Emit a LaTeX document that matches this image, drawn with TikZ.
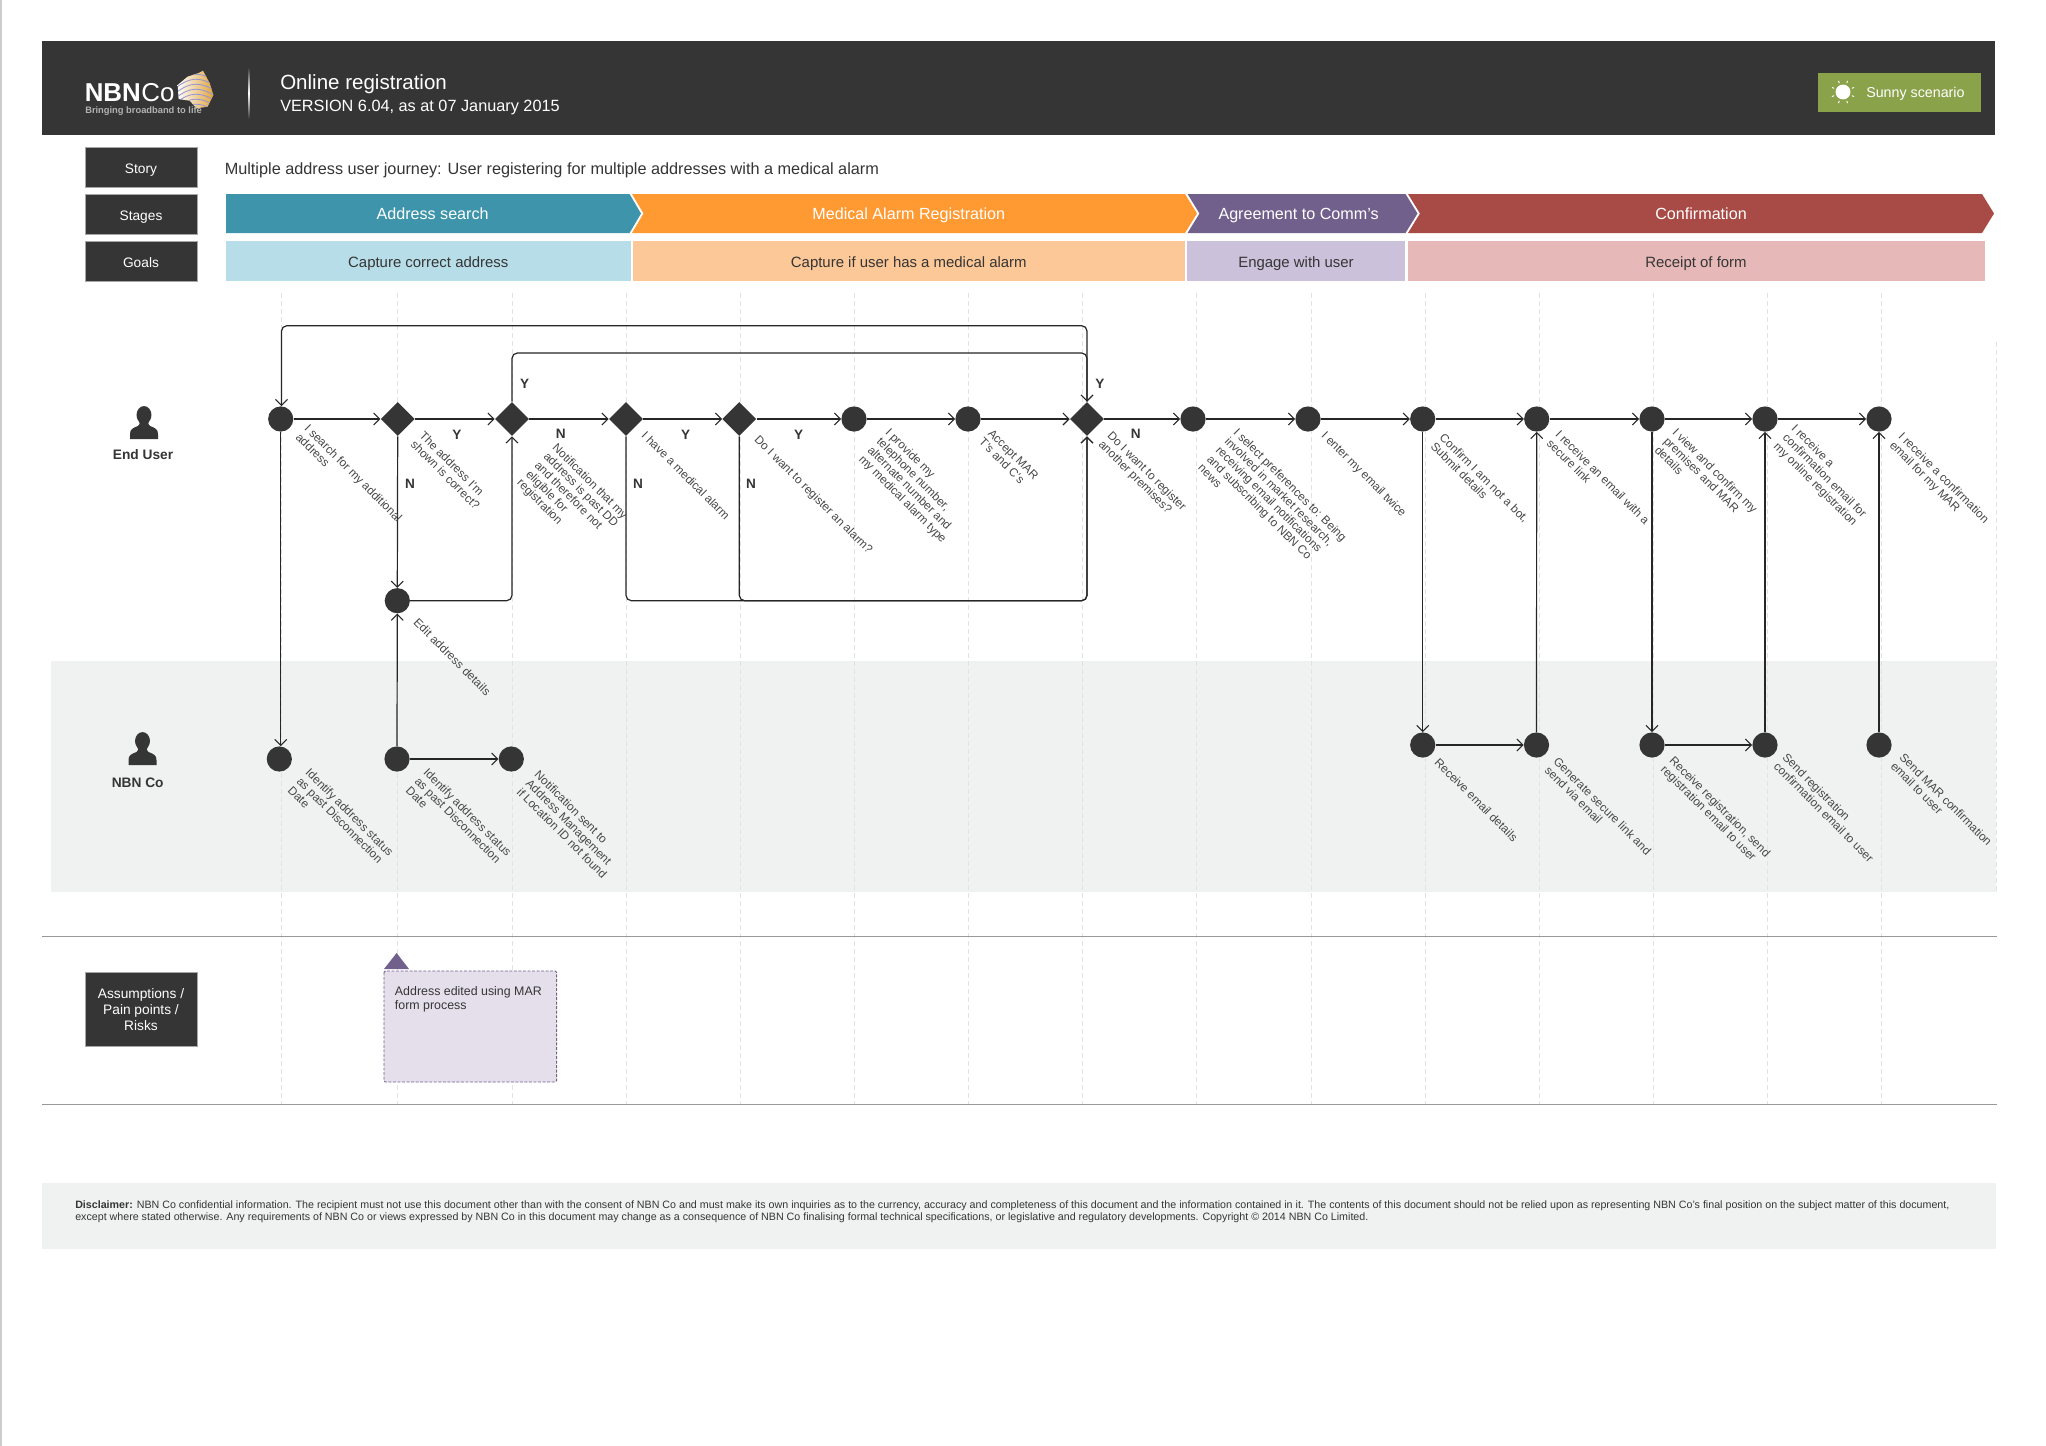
\documentclass[tikz,border=0pt]{standalone}
\usepackage{fontspec}
\setmainfont{Liberation Sans}
\usetikzlibrary{arrows.meta,shapes.geometric}
\definecolor{dark}{HTML}{353535}
\definecolor{lab}{HTML}{484848}
\definecolor{linec}{HTML}{262626}
\definecolor{gridc}{HTML}{E2E2E2}
\definecolor{band}{HTML}{F0F2F2}
\definecolor{teal}{HTML}{3D94AB}
\definecolor{orangeS}{HTML}{FF9A33}
\definecolor{purpleS}{HTML}{72608C}
\definecolor{redS}{HTML}{A84A45}
\definecolor{tealL}{HTML}{B7DEE8}
\definecolor{orangeL}{HTML}{FCC898}
\definecolor{purpleL}{HTML}{CCC1DA}
\definecolor{redL}{HTML}{E6B9B8}
\definecolor{sunny}{HTML}{8AA24A}
\definecolor{notefill}{HTML}{E5DFEC}
\definecolor{gold}{HTML}{E0A23C}
\newcommand\fpx[2]{\fontsize{#1pt}{#2pt}\selectfont}
\newcommand\personicon[2]{%
  \begin{scope}[shift={(#1,#2)}]
    \fill[dark] (0,-17) ellipse[x radius=5.6pt,y radius=6.7pt];
    \fill[dark] (-14,7) -- (-14,2) .. controls (-14,-3) and (-11,-4) .. (-6,-6)
      .. controls (-4,-7) and (-4,-9) .. (-5,-11) -- (5,-11)
      .. controls (4,-9) and (4,-7) .. (6,-6)
      .. controls (11,-4) and (14,-3) .. (14,2) -- (14,7) -- cycle;
  \end{scope}}
\tikzset{
  x=0.75pt,y=-0.75pt,
  headbox/.style={fill=dark,draw=gray!70,line width=0.4pt},
  sidetxt/.style={text=white,font=\fpx{10.3}{12},align=center,inner sep=0},
  fixh/.style={text height=8pt,text depth=2pt},
  circ/.style={circle,fill=dark,draw=none,minimum size=18.9pt,inner sep=0},
  diam/.style={diamond,fill=dark,draw=none,minimum width=25.5pt,minimum height=25.5pt,inner sep=0},
  conn/.style={draw=linec,line width=0.9pt,-{Straight Barb[length=4.5pt,width=9pt,line width=0.8pt]}},
  loop/.style={conn,rounded corners=4pt},
  steptxt/.style={rotate=-45,anchor=north west,align=left,inner sep=0,text=lab,font=\fpx{8.85}{9.4}},
  yn/.style={font=\bfseries\fpx{10.2}{12},text=dark,inner sep=0},
  stagetxt/.style={text=white,font=\fpx{12.1}{14},inner sep=0,text height=9pt,text depth=2.5pt},
  goaltxt/.style={text=dark,font=\fpx{11.2}{13},inner sep=0,text height=8.5pt,text depth=2.5pt},
  gridl/.style={draw=gridc,line width=0.7pt,dash pattern=on 4pt off 2pt},
  rulel/.style={draw=gray!80,line width=0.7pt},
}
\begin{document}
\begin{tikzpicture}
\useasboundingbox (0,0) rectangle (2046,1446);
\fill[white] (0,0) rectangle (2046,1446);
\fill[gray!40] (0,0) rectangle (2,1446);

% swimlane band and grid
\fill[band] (51,660.5) rectangle (1996,891.5);
\foreach \gx in {281.7,397.7,512,626,740.7,854.7,968.7,1082.7,1196.7,1311,1425,1539.7,1653.7,1767.7,1881.7}
  \draw[gridl] (\gx,293) -- (\gx,1104);
\draw[gridl] (1996,342) -- (1996,891);

% header
\fill[dark] (42,41) rectangle (1995,134.5);
\shade[top color=dark,bottom color=dark,middle color=white] (248,67) rectangle (249.6,119);
\node[anchor=west,inner sep=0,text=white,font=\bfseries\fpx{19.4}{22}] (nbn) at (84.5,93) {NBN};
\node[anchor=west,inner sep=0,text=white,font=\fpx{19.4}{22}] (co) at (nbn.east) {Co};
\begin{scope}
  \clip (177.7,85) -- (187.5,76.7) -- (198.7,73) -- (203,70.7) -- (209.8,83.3) -- (213.4,95) -- (207.6,106.7) -- (196.4,108.3) -- (189.7,100.7) -- (178.6,99) -- cycle;
  \shade[left color=white,right color=gold] (177,70) rectangle (214,109);
  \foreach \sy in {74,79,84,89,94,99,104}
    \draw[gray!60!blue!60,line width=0.6pt] (177,\sy+8) .. controls (190,\sy-2) and (200,\sy-2) .. (214,\sy+6);
\end{scope}
\node[anchor=west,inner sep=0,text=gray!60!white,font=\bfseries\fpx{7}{8}] (tag) at (85,111) {Bringing broadband to life};
\node[anchor=west,inner sep=0,text=white,font=\fpx{15.4}{17}] (title) at (280,84) {Online registration};
\node[anchor=west,inner sep=0,text=white,font=\fpx{12.2}{15}] (version) at (280,107.5) {VERSION 6.04, as at 07 January 2015};
\fill[sunny] (1817.5,73) rectangle (1980.5,111.7);
\fill[white] (1843,92) circle[radius=5.6pt];
\foreach \a in {22.5,67.5,...,337.5}
  \draw[white,line width=0.7pt] (1843,92) ++(\a:7.2pt) -- ++(\a:1.8pt);
\node[anchor=west,inner sep=0,text=white,font=\fpx{10.7}{13}] (sunnytxt) at (1866,94) {Sunny scenario};

% side boxes
\path[headbox] (85,147) rectangle (197,187);
\node[sidetxt,fixh] (story) at (141,169) {Story};
\path[headbox] (85,194) rectangle (197,234);
\node[sidetxt,fixh] (stages) at (141,216) {Stages};
\path[headbox] (85,241) rectangle (197,281);
\node[sidetxt,fixh] (goals) at (141,263) {Goals};
\node[anchor=west,inner sep=0,text=dark,font=\fpx{12.2}{14}] (storytxt) at (224.5,170) {Multiple address user journey: User registering for multiple addresses with a medical alarm};

% stages
\fill[teal] (226,194) -- (629.5,194) -- (641,213.5) -- (629.5,233) -- (226,233) -- cycle;
\fill[orangeS] (632,194) -- (1185,194) -- (1197,213.5) -- (1185,233) -- (632,233) -- (643.5,213.5) -- cycle;
\fill[purpleS] (1187.5,194) -- (1405.5,194) -- (1417.5,213.5) -- (1405.5,233) -- (1187.5,233) -- (1199.5,213.5) -- cycle;
\fill[redS] (1408,194) -- (1982,194) -- (1994,213.5) -- (1982,233) -- (1408,233) -- (1420,213.5) -- cycle;
\node[stagetxt] (s1) at (432.6,215.5) {Address search};
\node[stagetxt] (s2) at (908.8,215.5) {Medical Alarm Registration};
\node[stagetxt] (s3) at (1298.6,215.5) {Agreement to Comm's};
\node[stagetxt] (s4) at (1701,215.5) {Confirmation};

% goals
\fill[tealL] (226,241) rectangle (631,281);
\fill[orangeL] (633,241) rectangle (1185,281);
\fill[purpleL] (1187,241) rectangle (1405,281);
\fill[redL] (1407.5,241) rectangle (1985,281);
\node[goaltxt] (g1) at (428.3,263) {Capture correct address};
\node[goaltxt] (g2) at (908.8,263) {Capture if user has a medical alarm};
\node[goaltxt] (g3) at (1296,263) {Engage with user};
\node[goaltxt] (g4) at (1696,263) {Receipt of form};

% actors
\personicon{144}{432}
\node[inner sep=0,text=dark,font=\bfseries\fpx{10.3}{12}] (enduser) at (143,455) {End User};
\personicon{142.5}{758}
\node[inner sep=0,text=dark,font=\bfseries\fpx{10.3}{12}] (nbnco) at (137.7,783) {NBN Co};

% nodes, row 1
\node[circ] (c1) at (280.7,419) {};
\node[diam] (d2) at (397.7,419) {};
\node[diam] (d3) at (512,419) {};
\node[diam] (d4) at (626,419) {};
\node[diam] (d5) at (739.3,419) {};
\node[circ] (c6) at (854,419) {};
\node[circ] (c7) at (968,419) {};
\node[diam] (d8) at (1087,419) {};
\node[circ] (c9) at (1193,419) {};
\node[circ] (c10) at (1308,419) {};
\node[circ] (c11) at (1422.7,419) {};
\node[circ] (c12) at (1536.7,419) {};
\node[circ] (c13) at (1652,419) {};
\node[circ] (c14) at (1765,419) {};
\node[circ] (c15) at (1879,419) {};
\node[circ] (edit) at (397.3,600.7) {};
% nodes, row 2
\node[circ] (n1) at (279.3,759) {};
\node[circ] (n2) at (397,759) {};
\node[circ] (n3) at (511.3,759) {};
\node[circ] (n4) at (1422.7,745) {};
\node[circ] (n5) at (1536.5,745) {};
\node[circ] (n6) at (1652,745) {};
\node[circ] (n7) at (1765,745) {};
\node[circ] (n8) at (1879,745) {};

% connector corners
\coordinate (topa) at (281.5,325.7);
\coordinate (topb) at (512.7,353);
\coordinate (bot) at (1087.5,600.7);

% connectors
\draw[conn] (c1) -- (d2);
\draw[conn] (d2) -- (d3);
\draw[conn] (d3) -- (d4);
\draw[conn] (d4) -- (d5);
\draw[conn] (d5) -- (c6);
\draw[conn] (c6) -- (c7);
\draw[conn] (c7) -- (d8);
\draw[conn] (d8) -- (c9);
\draw[conn] (c9) -- (c10);
\draw[conn] (c10) -- (c11);
\draw[conn] (c11) -- (c12);
\draw[conn] (c12) -- (c13);
\draw[conn] (c13) -- (c14);
\draw[conn] (c14) -- (c15);
\draw[conn] (n2) -- (n3);
\draw[conn] (n4) -- (n5);
\draw[conn] (n6) -- (n7);
\draw[conn] (d2.south) -- (edit.north);
\draw[conn] (n2.north) -- (edit.south);
\draw[conn] (c1.south) -- (c1.south |- n1.north);
\draw[conn] (c11.south) -- (n4.north);
\draw[conn] (n5.north) -- (c12.south);
\draw[conn] (c13.south) -- (n6.north);
\draw[conn] (n7.north) -- (c14.south);
\draw[conn] (n8.north) -- (c15.south);
\draw[loop] (d8.north) -- (d8.north |- topa) -- (topa) -- (topa |- c1.north);
\draw[loop] (d3.north) -- (d3.north |- topb) -- (d8.north |- topb) -- (d8.north);
\draw[loop] (edit.east) -- (d3.south |- edit.east) -- (d3.south);
\draw[loop] (d4.south) -- (d4.south |- bot) -- (d8.south |- bot) -- (d8.south);
\draw[loop] (d5.south) -- (d5.south |- bot) -- (d8.south |- bot) -- (d8.south);

% Y / N
\node[yn] (y1) at (457,435) {Y};
\node[yn] (n1l) at (410,484) {N};
\node[yn] (y2) at (524.7,384) {Y};
\node[yn] (n2l) at (560.7,434) {N};
\node[yn] (y3) at (685.7,435) {Y};
\node[yn] (n3l) at (638,484) {N};
\node[yn] (y4) at (798.7,435) {Y};
\node[yn] (n4l) at (751,484) {N};
\node[yn] (y5) at (1100,384) {Y};
\node[yn] (n5l) at (1135.7,434) {N};

% step labels
\node[steptxt] (t1) at (310,423) {I search for my additional\\address};
\node[steptxt] (t2) at (425,430) {The address I'm\\shown is correct?};
\node[steptxt] (t3) at (558,442) {Notification that my\\address is past DD\\and therefore not\\eligible for\\registration};
\node[steptxt] (t4) at (647,430) {I have a medical alarm};
\node[steptxt] (t5) at (760,434) {Do I want to register an alarm?};
\node[steptxt] (t6) at (891,427) {I provide my\\telephone number,\\alternate number and\\my medical alarm type};
\node[steptxt] (t7) at (993,428) {Accept MAR\\T's and C's};
\node[steptxt] (t8) at (1113,430) {Do I want to register\\another premises?};
\node[steptxt] (t9) at (1239,427) {I select preferences to: Being\\involved in market research,\\receiving email notifications\\and subscribing to NBN Co\\news};
\node[steptxt] (t10) at (1327,430) {I enter my email twice};
\node[steptxt] (t11) at (1445,432) {Confirm I am not a bot,\\Submit details};
\node[steptxt] (t12) at (1561,429) {I receive an email with a\\secure link};
\node[steptxt] (t13) at (1678,427) {I view and confirm my\\premises and MAR\\details};
\node[steptxt] (t14) at (1797,423) {I receive a\\confirmation email for\\my online registration};
\node[steptxt] (t15) at (1904,431) {I receive a confirmation\\email for my MAR};
\node[steptxt] (t16) at (419,617) {Edit address details};
\node[steptxt] (t17) at (311,767) {Identify address status\\as past Disconnection\\Date};
\node[steptxt] (t18) at (429,767) {Identify address status\\as past Disconnection\\Date};
\node[steptxt] (t19) at (540,769) {Notification sent to\\Address Management\\if Location ID not found};
\node[steptxt] (t20) at (1440,757) {Receive email details};
\node[steptxt] (t21) at (1559,756) {Generate secure link and\\send via email};
\node[steptxt] (t22) at (1675,755) {Receive registration, send\\registration email to user};
\node[steptxt] (t23) at (1788,752) {Send registration\\confirmation email to user};
\node[steptxt] (t24) at (1905,752) {Send MAR confirmation\\email to user};

% assumptions section
\draw[rulel] (42,936) -- (1997,936);
\draw[rulel] (42,1104) -- (1997,1104);
\path[headbox] (85.5,972) rectangle (197,1046.7);
\node[sidetxt] (assume) at (141,1010) {Assumptions /\\Pain points /\\Risks};
\path[fill=notefill,draw=purpleS,line width=0.7pt,dash pattern=on 2.2pt off 1.2pt,rounded corners=1pt] (384,971) rectangle (556.6,1082);
\fill[purpleS] (384,969) -- (396.6,953) -- (409,969) -- cycle;
\node[anchor=north west,align=left,inner sep=0,text=dark,font=\fpx{9.3}{10.4}] (notetxt) at (394.7,986) {Address edited using MAR\\form process};

% disclaimer
\fill[band] (41.5,1182.7) rectangle (1996,1248.7);
\node[anchor=north west,align=left,inner sep=0,text=dark,font=\fpx{8.01}{9.5}] (disc) at (75,1200) {\textbf{Disclaimer:} NBN Co confidential information. The recipient must not use this document other than with the consent of NBN Co and must make its own inquiries as to the currency, accuracy and completeness of this document and the information contained in it. The contents of this document should not be relied upon as representing NBN Co's final position on the subject matter of this document,\\except where stated otherwise. Any requirements of NBN Co or views expressed by NBN Co in this document may change as a consequence of NBN Co finalising formal technical specifications, or legislative and regulatory developments. Copyright © 2014 NBN Co Limited.};
\end{tikzpicture}
\end{document}
